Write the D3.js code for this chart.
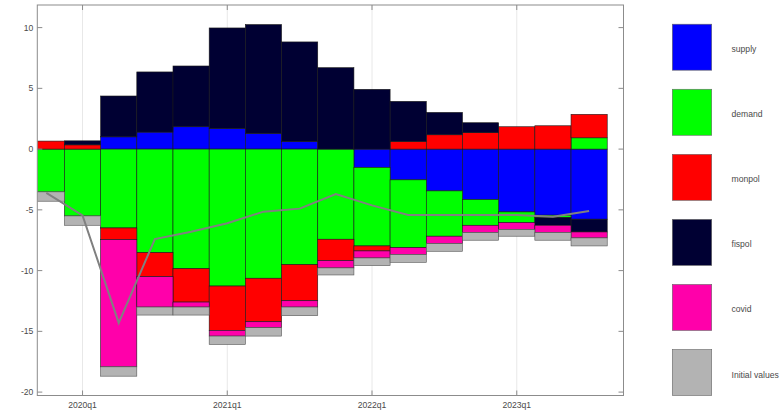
<!DOCTYPE html>
<html>
<head>
<meta charset="utf-8">
<script src="https://cdn.jsdelivr.net/npm/d3@7"></script>
<style>
  html, body { margin: 0; padding: 0; background: #fff; }
  svg { display: block; }
  text { font-family: "Liberation Sans", Arial, sans-serif; }
</style>
</head>
<body>
<svg id="chart" width="782" height="412"></svg>
<script>
// ---- data ----
const quarters = ["2019q4","2020q1","2020q2","2020q3","2020q4","2021q1","2021q2","2021q3",
                  "2021q4","2022q1","2022q2","2022q3","2022q4","2023q1","2023q2","2023q3"];
const supply  = [0, 0, 1.01, 1.40, 1.84, 1.70, 1.29, 0.63, 0, -1.51, -2.53, -3.44, -4.15, -5.17, -5.44, -5.77];
const demand  = [-3.52, -5.50, -6.49, -8.52, -9.84, -11.27, -10.63, -9.51, -7.42, -6.46, -5.58, -3.73, -2.12, -0.88, -0.19, 0.93];
const monpol  = [0.66, 0.35, -0.96, -1.98, -2.75, -3.65, -3.58, -2.97, -1.76, -0.41, 0.63, 1.18, 1.35, 1.84, 1.92, 1.93];
const fispol  = [0, 0.33, 3.36, 4.95, 5.00, 8.27, 8.96, 8.19, 6.70, 4.92, 3.30, 1.84, 0.82, 0, -0.64, -1.05];
const covid   = [0, 0, -10.47, -2.50, -0.41, -0.47, -0.49, -0.52, -0.60, -0.58, -0.57, -0.61, -0.60, -0.57, -0.60, -0.49];
const initialValues = [-0.77, -0.77, -0.77, -0.66, -0.66, -0.69, -0.69, -0.71, -0.58, -0.63, -0.64, -0.63, -0.63, -0.55, -0.63, -0.66];
const totalLine = [-3.6, -5.45, -14.3, -7.4, -6.8, -6.1, -5.15, -4.9, -3.7, -4.63, -5.43, -5.43, -5.43, -5.43, -5.56, -5.1];

const seriesNames  = ["supply", "demand", "monpol", "fispol", "covid", "Initial values"];
const seriesColors = ["#0000ff", "#00ff00", "#ff0000", "#000033", "#ff00aa", "#b3b3b3"];
const yTicks = [-20, -15, -10, -5, 0, 5, 10];
const xTickLabels = ["2020q1", "2021q1", "2022q1", "2023q1"];

// ---- build table ----
const seriesArrays = [supply, demand, monpol, fispol, covid, initialValues];
const rows = quarters.map((q, i) => {
  const r = { q, i };
  seriesNames.forEach((n, k) => { r[n] = seriesArrays[k][i]; });
  return r;
});

// ---- layout ----
const svg = d3.select("#chart");
const L = 37.3, R = 623.5, T = 5, B = 395.5;

const x = d3.scaleLinear().domain([-0.25, 15.95]).range([L, R]);
const y = d3.scaleLinear().domain([-20.28, 11.86]).range([B, T]);
const bw = x(1) - x(0);

svg.append("defs").append("clipPath").attr("id", "clip")
  .append("rect").attr("x", L).attr("y", T).attr("width", R - L).attr("height", B - T);

// grid (vertical)
const xTickIdx = xTickLabels.map(l => quarters.indexOf(l));
svg.append("g").selectAll("line").data(xTickIdx).join("line")
  .attr("x1", d => x(d)).attr("x2", d => x(d))
  .attr("y1", T).attr("y2", B)
  .attr("stroke", "#e8e8e8").attr("stroke-width", 1);

// stacked bars
const stack = d3.stack().keys(seriesNames).offset(d3.stackOffsetDiverging);
const layers = stack(rows);
const plot = svg.append("g").attr("clip-path", "url(#clip)");
layers.forEach((layer, k) => {
  plot.append("g").selectAll("rect").data(layer.filter(d => d[1] !== d[0])).join("rect")
    .attr("x", d => x(d.data.i) - bw / 2)
    .attr("width", bw)
    .attr("y", d => y(Math.max(d[0], d[1])))
    .attr("height", d => Math.abs(y(d[0]) - y(d[1])))
    .attr("fill", seriesColors[k])
    .attr("stroke", k === 5 ? "#555" : "#1a1a1a")
    .attr("stroke-width", 0.6);
});

// total line
plot.append("path")
  .datum(totalLine)
  .attr("fill", "none")
  .attr("stroke", "#808080")
  .attr("stroke-width", 2)
  .attr("d", d3.line().x((d, i) => x(i)).y(d => y(d)));

// frame
const axisColor = "#8c8c8c";
svg.append("rect").attr("x", L).attr("y", T).attr("width", R - L).attr("height", B - T)
  .attr("fill", "none").attr("stroke", axisColor).attr("stroke-width", 1);

// y ticks
const yAxisG = svg.append("g");
yTicks.forEach(t => {
  const yy = y(t);
  yAxisG.append("line").attr("x1", L).attr("x2", L + 5).attr("y1", yy).attr("y2", yy)
    .attr("stroke", axisColor);
  yAxisG.append("line").attr("x1", R - 5).attr("x2", R).attr("y1", yy).attr("y2", yy)
    .attr("stroke", axisColor);
  yAxisG.append("text").attr("x", L - 4).attr("y", yy).attr("dy", "0.35em")
    .attr("text-anchor", "end").attr("font-size", 8.6).attr("fill", "#4a4a4a").text(t);
});

// x ticks
const xAxisG = svg.append("g");
xTickIdx.forEach((idx, j) => {
  const xx = x(idx);
  xAxisG.append("line").attr("x1", xx).attr("x2", xx).attr("y1", B).attr("y2", B - 5)
    .attr("stroke", axisColor);
  xAxisG.append("line").attr("x1", xx).attr("x2", xx).attr("y1", T).attr("y2", T + 5)
    .attr("stroke", axisColor);
  xAxisG.append("text").attr("x", xx).attr("y", 405).attr("dy", "0.35em")
    .attr("text-anchor", "middle").attr("font-size", 8.6).attr("fill", "#4a4a4a").text(xTickLabels[j]);
});

// legend
const leg = svg.append("g");
const legY = d3.scaleLinear().domain([0, seriesNames.length - 1]).range([47.2, 372.5]);
seriesNames.forEach((n, k) => {
  const cy = legY(k);
  leg.append("rect").attr("x", 672.3).attr("y", cy - 23).attr("width", 39.4).attr("height", 46)
    .attr("fill", seriesColors[k]).attr("stroke", "#666").attr("stroke-width", 0.6);
  leg.append("text").attr("x", 731.5).attr("y", cy + 5)
    .attr("font-size", 8.6).attr("fill", "#4a4a4a").text(n);
});
</script>
</body>
</html>
